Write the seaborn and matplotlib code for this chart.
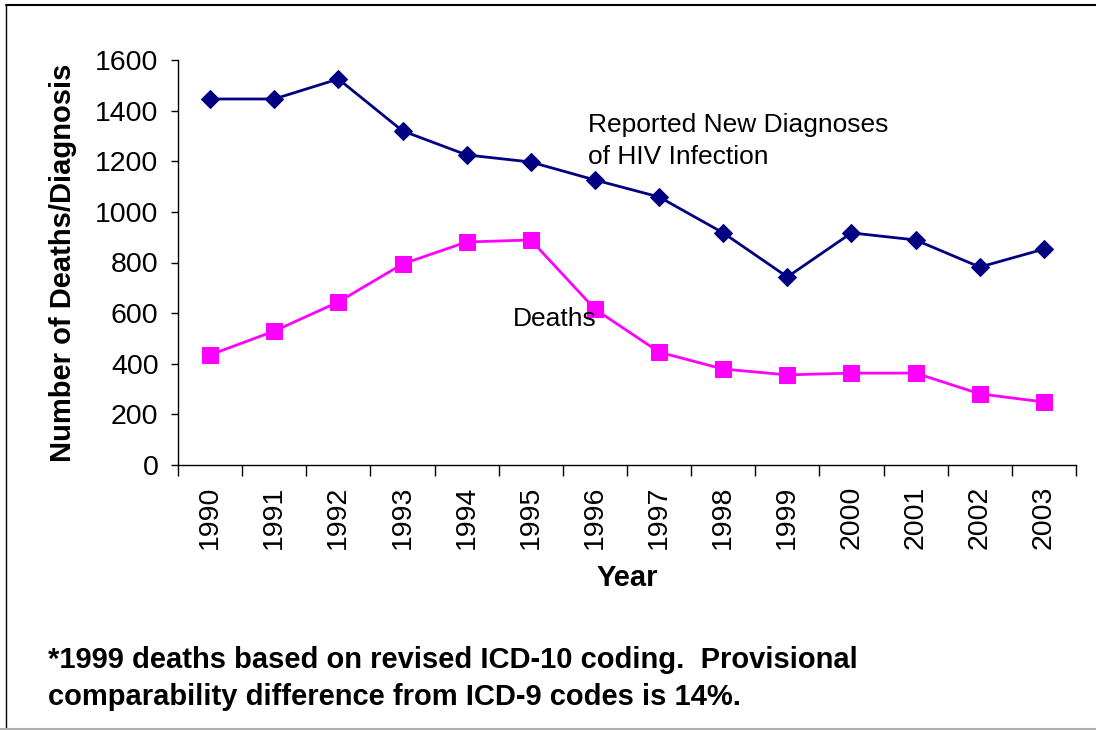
import matplotlib
matplotlib.use("Agg")
import matplotlib.pyplot as plt
import seaborn as sns
import pandas as pd
import numpy as np
from matplotlib.ticker import FixedLocator
from matplotlib.lines import Line2D

years = ["1990", "1991", "1992", "1993", "1994", "1995", "1996",
         "1997", "1998", "1999", "2000", "2001", "2002", "2003"]
diagnoses = [1446, 1446, 1525, 1320, 1225, 1197, 1126, 1059, 917, 743, 917, 889, 782, 853]
deaths = [435, 529, 644, 794, 881, 889, 616, 446, 379, 356, 363, 363, 281, 249]

sns.set_style("white")
plt.rcParams['font.family'] = ['Liberation Sans', 'DejaVu Sans']
plt.rcParams['text.color'] = 'black'
plt.rcParams['axes.labelcolor'] = 'black'
plt.rcParams['xtick.color'] = 'black'
plt.rcParams['ytick.color'] = 'black'

fig = plt.figure(figsize=(10.96, 7.30), dpi=100)
ax = fig.add_axes([178/1096, 1 - 465/730, (1076-178)/1096, (465-60)/730])

pos = np.arange(len(years))
df = pd.DataFrame({"pos": pos, "diag": diagnoses, "deaths": deaths})

sns.lineplot(data=df, x="pos", y="diag", ax=ax, color="#000080", linewidth=2,
             marker="D", markersize=9.5, markeredgecolor="#000080")
sns.lineplot(data=df, x="pos", y="deaths", ax=ax, color="#FF00FF", linewidth=2,
             marker="s", markersize=11, markeredgecolor="#FF00FF")

ax.set_xlim(-0.5, len(years) - 0.5)
ax.set_ylim(0, 1600)
ax.set_yticks(range(0, 1601, 200))
ax.set_yticklabels([str(v) for v in range(0, 1601, 200)], fontsize=20.5)
ax.set_xticks(pos)
ax.set_xticklabels(years, rotation=90, fontsize=20.5)
ax.xaxis.set_minor_locator(FixedLocator(np.arange(-0.5, len(years), 1.0)))
ax.tick_params(axis="x", which="major", length=0, pad=15)
ax.tick_params(axis="x", which="minor", length=8, direction="out", color="black", width=1, bottom=True)
ax.tick_params(axis="y", which="major", length=5, direction="out", color="black", width=1, left=True, pad=9)

for s in ["top", "right"]:
    ax.spines[s].set_visible(False)
for s in ["left", "bottom"]:
    ax.spines[s].set_color("black")
    ax.spines[s].set_linewidth(1)

ax.set_xlabel("Year", fontsize=21, fontweight="bold")
ax.xaxis.label.set_va("center")
ax.xaxis.set_label_coords(0.5, -(578 - 465) / 405)
ax.set_ylabel("Number of Deaths/Diagnosis", fontsize=21, fontweight="bold")
ax.yaxis.label.set_va("center")
ax.yaxis.set_label_coords((63 - 178) / 898, 0.5)

ax.text(5.89, 1281, "Reported New Diagnoses\nof HIV Infection", fontsize=19,
        ha="left", va="center", linespacing=1.42)
ax.text(4.72, 577, "Deaths", fontsize=19, ha="left", va="center")

fig.text(48/1096, 1 - 660/730,
         "*1999 deaths based on revised ICD-10 coding.  Provisional",
         fontsize=21, fontweight="bold", ha="left", va="center")
fig.text(48/1096, 1 - 697/730,
         "comparability difference from ICD-9 codes is 14%.",
         fontsize=21, fontweight="bold", ha="left", va="center")

# outer frame: black top and left, grey bottom
fig.add_artist(Line2D([6/1096, 1], [1 - 4.5/730, 1 - 4.5/730], transform=fig.transFigure,
                      color="black", linewidth=1.5))
fig.add_artist(Line2D([6/1096, 6/1096], [0, 1 - 4.5/730], transform=fig.transFigure,
                      color="black", linewidth=1))
fig.add_artist(Line2D([0, 1], [1.2/730, 1.2/730], transform=fig.transFigure,
                      color="#b0b0b0", linewidth=1.5))

fig.savefig("out.png", dpi=100)
